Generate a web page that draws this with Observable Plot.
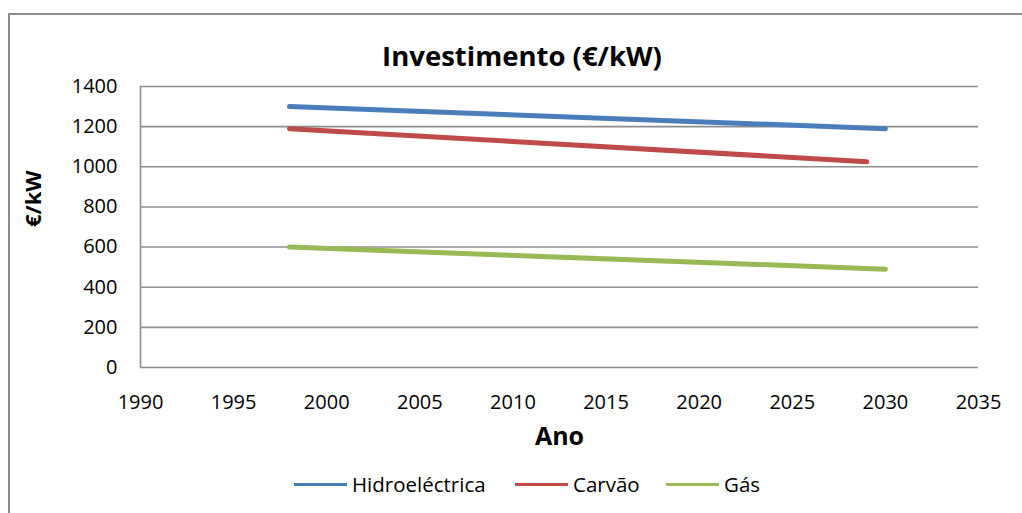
<!DOCTYPE html>
<html>
<head>
<meta charset="utf-8">
<script src="https://cdn.jsdelivr.net/npm/d3@7"></script>
<script src="https://cdn.jsdelivr.net/npm/@observablehq/plot@0.6"></script>
<style>
  html, body { margin: 0; padding: 0; background: #fff; }
  #wrap { position: relative; width: 1022px; height: 513px; overflow: hidden; font-family: "Open Sans", sans-serif; }
  #frame { position: absolute; left: 8px; top: 13px; width: 1040px; height: 540px; border-left: 2px solid #8c8c8c; border-top: 2px solid #8c8c8c; box-sizing: border-box; }
  #title { position: absolute; left: 0; width: 1044px; top: 37px; line-height: 38px; text-align: center; font-weight: bold; font-size: 27.5px; color: #000; }
  #chart { position: absolute; left: 0; top: 0; }
  #legend { position: absolute; left: 0; top: 470px; width: 1022px; height: 30px; }
  .item { position: absolute; top: 0; display: flex; align-items: center; font-size: 20.5px; color: #000; }
  .sw { display: inline-block; width: 53px; height: 3px; margin-right: 5px; }
</style>
</head>
<body>
<div id="wrap">
  <div id="frame"></div>
  <div id="title">Investimento (€/kW)</div>
  <div id="chart"></div>
  <div id="legend"></div>
</div>
<script>
const seriesNames = ["Hidroeléctrica", "Carvão", "Gás"];
const seriesColors = ["#4a7ebb", "#be4b48", "#98b954"];
const hidroYears = [1998, 2030];
const hidroValues = [1300, 1190];
const carvaoYears = [1998, 2029];
const carvaoValues = [1190, 1025];
const gasYears = [1998, 2030];
const gasValues = [600, 490];
const xTicks = [1990, 1995, 2000, 2005, 2010, 2015, 2020, 2025, 2030, 2035];
const yTicks = [0, 200, 400, 600, 800, 1000, 1200, 1400];

const data = [];
[[hidroYears, hidroValues], [carvaoYears, carvaoValues], [gasYears, gasValues]].forEach(([ys, vs], i) => {
  ys.forEach((y, j) => data.push({series: seriesNames[i], year: y, value: vs[j]}));
});

const fmt = d => String(d);
const chart = Plot.plot({
  width: 1022,
  height: 513,
  marginLeft: 140,
  marginRight: 44,
  marginTop: 86,
  marginBottom: 146,
  style: {fontFamily: "'Open Sans', sans-serif", fontSize: "20px", color: "#000", background: "transparent"},
  x: {domain: [1990, 2035], label: null},
  y: {domain: [0, 1400], label: null},
  color: {domain: seriesNames, range: seriesColors},
  marks: [
    Plot.ruleY(yTicks, {stroke: "#8c8c8c", strokeWidth: 1.6}),
    Plot.ruleX([1990], {stroke: "#8c8c8c", strokeWidth: 1.6}),
    Plot.line(data, {x: "year", y: "value", z: "series", stroke: "series", strokeWidth: 5, strokeLinecap: "round"}),
    Plot.axisX({ticks: xTicks, tickFormat: fmt, tickSize: 0, tickPadding: 27, label: null, fontSize: 20}),
    Plot.axisY({ticks: yTicks, tickFormat: fmt, tickSize: 0, tickPadding: 23, label: null, fontSize: 20}),
    Plot.text(["Ano"], {frameAnchor: "bottom", dy: 77, fontWeight: "bold", fontSize: 25}),
    Plot.text(["€/kW"], {frameAnchor: "left", dx: -107, rotate: -90, fontWeight: "bold", fontSize: 22})
  ]
});
document.getElementById("chart").appendChild(chart);

const legend = document.getElementById("legend");
const lefts = [294, 515, 666];
seriesNames.forEach((n, i) => {
  const it = document.createElement("div");
  it.className = "item";
  it.style.left = lefts[i] + "px";
  it.innerHTML = `<span class="sw" style="background:${seriesColors[i]}"></span><span>${n}</span>`;
  legend.appendChild(it);
});
</script>
</body>
</html>
